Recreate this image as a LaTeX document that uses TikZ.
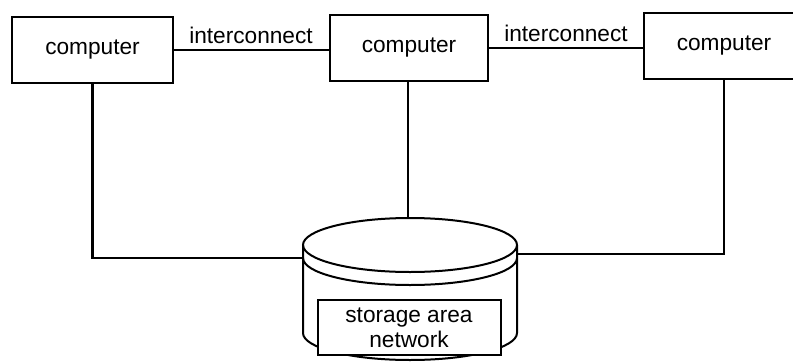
\documentclass[tikz,border=0pt]{standalone}
\usepackage{fontspec}
\setmainfont{Liberation Sans}
\begin{document}
\begin{tikzpicture}[x=0.75pt,y=-0.75pt,
  line width=1.5pt, line join=miter,
  compbox/.style={draw, minimum height=66*0.75pt, inner sep=0pt,
    font=\fontsize{17}{20}\selectfont},
  lbl/.style={font=\fontsize{17}{20}\selectfont, inner sep=0pt},
  wire/.style={line width=1.7pt}]
\clip (0,0) rectangle (793,361);
\fill[white] (0,0) rectangle (793,361);

% computers
\node[compbox, minimum width=161*0.75pt] (c1) at (92.5,50) {computer};
\node[compbox, minimum width=158*0.75pt] (c2) at (409,48) {computer};
\node[compbox, minimum width=160*0.75pt] (c3) at (724,46) {computer};

% interconnects
\draw[wire] (c1.east) -- (c1.east -| c2.west) coordinate (i1);
\draw[wire] (c2.east) -- (c2.east -| c3.west) coordinate (i2);
\node[lbl] (l1) at (251,35) {interconnect};
\node[lbl] (l2) at (566,33) {interconnect};

% storage cylinder (y grows downwards, so lower half-arcs run 180 -> 0)
\def\cx{410}\def\rx{107}\def\ry{27}
\def\ty{245}\def\by{333}
\draw[fill=white] (\cx-\rx,\ty) -- (\cx-\rx,\by)
  arc[start angle=180, end angle=0, x radius=\rx, y radius=\ry]
  -- (\cx+\rx,\ty);
\draw (\cx-\rx,\ty+13) arc[start angle=180, end angle=0, x radius=\rx, y radius=\ry];
\draw (\cx,\ty) ellipse[x radius=\rx, y radius=\ry];
\coordinate (stop) at (\cx-2,\ty-\ry);
\coordinate (sleft) at (\cx-\rx,258);
\coordinate (sright) at (\cx+\rx,254);

\node[draw, fill=white, minimum width=183*0.75pt, minimum height=55*0.75pt, inner sep=0pt,
  align=center, font=\fontsize{17}{19}\selectfont] (san) at (409,327.5)
  {storage area\\network};

% links from computers to storage
\coordinate (k1) at (c1.south |- sleft);
\coordinate (k3) at (c3.south |- sright);
\draw[wire] (c1.south) -- (k1) -- (sleft);
\draw[wire] (c2.south -| stop) -- (stop);
\draw[wire] (c3.south) -- (k3) -- (sright);
\end{tikzpicture}
\end{document}
